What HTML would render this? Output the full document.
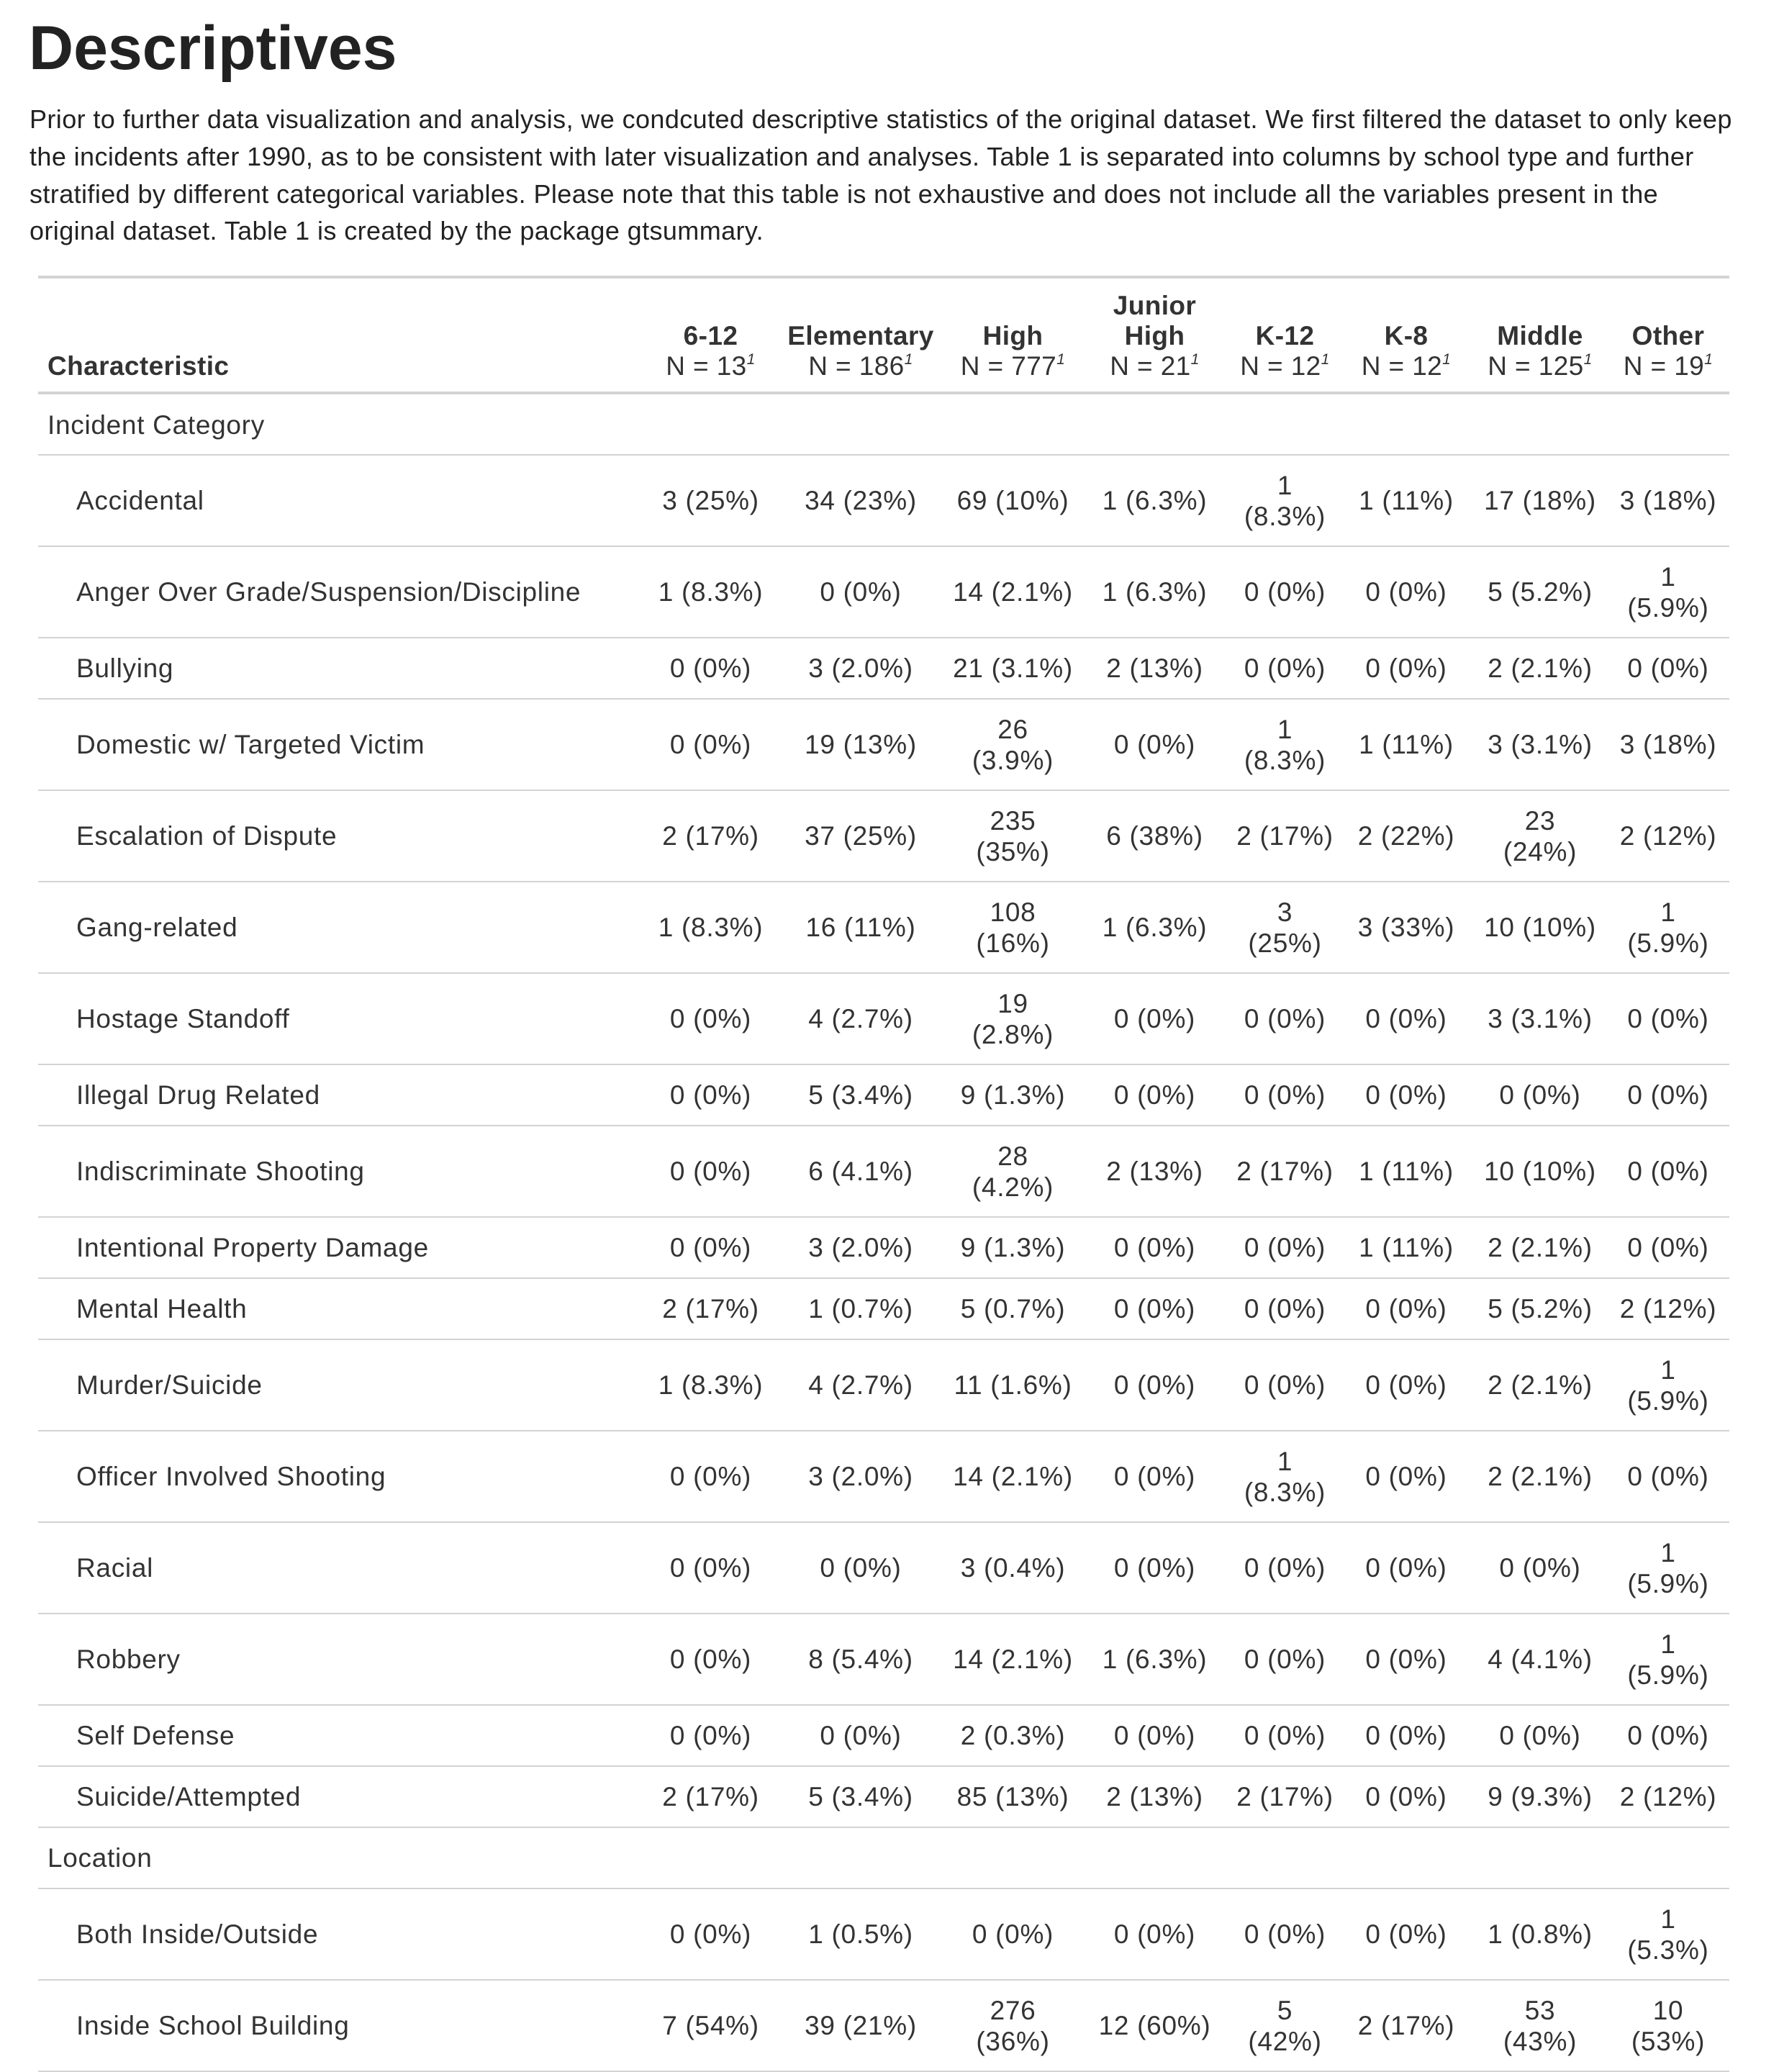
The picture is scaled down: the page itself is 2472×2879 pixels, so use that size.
<!DOCTYPE html>
<html><head><meta charset="utf-8">
<style>
html,body{margin:0;padding:0;background:#fff;}
body{width:2472px;height:2858px;overflow:hidden;position:relative;font-family:"Liberation Sans",Arial,sans-serif;color:#333;}
#title{position:absolute;left:40px;top:12px;font-size:86px;font-weight:bold;color:#222;margin:0;line-height:110px;}
#intro{position:absolute;left:41px;top:140px;font-size:36px;line-height:51.8px;color:#222;margin:0;white-space:nowrap;letter-spacing:0.4px;}
.hl{position:absolute;left:53px;width:2350px;background:#d3d3d3;}
.cell{position:absolute;font-size:37px;line-height:43px;white-space:pre-line;display:flex;align-items:center;letter-spacing:0.7px;}
.num{justify-content:center;text-align:center;}
.hd{position:absolute;font-size:37px;line-height:42px;text-align:center;letter-spacing:0.4px;}
.hd b{font-weight:bold;}
sup{font-size:21px;font-style:italic;vertical-align:15px;line-height:0;}
</style></head>
<body>
<h1 id="title">Descriptives</h1>
<p id="intro">Prior to further data visualization and analysis, we condcuted descriptive statistics of the original dataset. We first filtered the dataset to only keep<br>the incidents after 1990, as to be consistent with later visualization and analyses. Table 1 is separated into columns by school type and further<br>stratified by different categorical variables. Please note that this table is not exhaustive and does not include all the variables present in the<br>original dataset. Table 1 is created by the package gtsummary.</p>
<div id="tbl"></div>
<script>
const columnNames = ["6-12","Elementary","High","Junior\nHigh","K-12","K-8","Middle","Other"];
const columnN = [13,186,777,21,12,12,125,19];
const rowLabels = ["#Incident Category","Accidental","Anger Over Grade/Suspension/Discipline","Bullying","Domestic w/ Targeted Victim","Escalation of Dispute","Gang-related","Hostage Standoff","Illegal Drug Related","Indiscriminate Shooting","Intentional Property Damage","Mental Health","Murder/Suicide","Officer Involved Shooting","Racial","Robbery","Self Defense","Suicide/Attempted","#Location","Both Inside/Outside","Inside School Building"];
const rowValues = [
 null,
 ["3 (25%)","34 (23%)","69 (10%)","1 (6.3%)","1\n(8.3%)","1 (11%)","17 (18%)","3 (18%)"],
 ["1 (8.3%)","0 (0%)","14 (2.1%)","1 (6.3%)","0 (0%)","0 (0%)","5 (5.2%)","1\n(5.9%)"],
 ["0 (0%)","3 (2.0%)","21 (3.1%)","2 (13%)","0 (0%)","0 (0%)","2 (2.1%)","0 (0%)"],
 ["0 (0%)","19 (13%)","26\n(3.9%)","0 (0%)","1\n(8.3%)","1 (11%)","3 (3.1%)","3 (18%)"],
 ["2 (17%)","37 (25%)","235\n(35%)","6 (38%)","2 (17%)","2 (22%)","23\n(24%)","2 (12%)"],
 ["1 (8.3%)","16 (11%)","108\n(16%)","1 (6.3%)","3\n(25%)","3 (33%)","10 (10%)","1\n(5.9%)"],
 ["0 (0%)","4 (2.7%)","19\n(2.8%)","0 (0%)","0 (0%)","0 (0%)","3 (3.1%)","0 (0%)"],
 ["0 (0%)","5 (3.4%)","9 (1.3%)","0 (0%)","0 (0%)","0 (0%)","0 (0%)","0 (0%)"],
 ["0 (0%)","6 (4.1%)","28\n(4.2%)","2 (13%)","2 (17%)","1 (11%)","10 (10%)","0 (0%)"],
 ["0 (0%)","3 (2.0%)","9 (1.3%)","0 (0%)","0 (0%)","1 (11%)","2 (2.1%)","0 (0%)"],
 ["2 (17%)","1 (0.7%)","5 (0.7%)","0 (0%)","0 (0%)","0 (0%)","5 (5.2%)","2 (12%)"],
 ["1 (8.3%)","4 (2.7%)","11 (1.6%)","0 (0%)","0 (0%)","0 (0%)","2 (2.1%)","1\n(5.9%)"],
 ["0 (0%)","3 (2.0%)","14 (2.1%)","0 (0%)","1\n(8.3%)","0 (0%)","2 (2.1%)","0 (0%)"],
 ["0 (0%)","0 (0%)","3 (0.4%)","0 (0%)","0 (0%)","0 (0%)","0 (0%)","1\n(5.9%)"],
 ["0 (0%)","8 (5.4%)","14 (2.1%)","1 (6.3%)","0 (0%)","0 (0%)","4 (4.1%)","1\n(5.9%)"],
 ["0 (0%)","0 (0%)","2 (0.3%)","0 (0%)","0 (0%)","0 (0%)","0 (0%)","0 (0%)"],
 ["2 (17%)","5 (3.4%)","85 (13%)","2 (13%)","2 (17%)","0 (0%)","9 (9.3%)","2 (12%)"],
 null,
 ["0 (0%)","1 (0.5%)","0 (0%)","0 (0%)","0 (0%)","0 (0%)","1 (0.8%)","1\n(5.3%)"],
 ["7 (54%)","39 (21%)","276\n(36%)","12 (60%)","5\n(42%)","2 (17%)","53\n(43%)","10\n(53%)"]
];
const tbl = document.getElementById('tbl');
const colEdges = [53,899,1076,1316,1499,1710,1861,2047,2233,2403];
function line(y,h,name){
  const d=document.createElement('div');d.className='hl';
  
  
  d.style.top=y+'px';d.style.height=h+'px';tbl.appendChild(d);
}
line(383,4,'table-top-rule');
line(544,4,'header-bottom-rule');
let h=document.createElement('div');h.className='hd';


h.style.left='66px';h.style.top='488px';h.style.textAlign='left';h.innerHTML='<b>Characteristic</b>';tbl.appendChild(h);
columnNames.forEach((c,i)=>{
  const d=document.createElement('div');d.className='hd';
  
  
  const l=colEdges[i+1],r=colEdges[i+2];
  const lines=c.split('\n');
  d.style.left=l+'px';d.style.width=(r-l)+'px';
  d.style.top=(488-42*lines.length)+'px';
  d.innerHTML=lines.map(s=>'<b>'+s+'</b>').join('<br>')+'<br>N = '+columnN[i]+'<sup>1</sup>';
  tbl.appendChild(d);
});
let y=548;
rowLabels.forEach((lab,ri)=>{
  const vals=rowValues[ri];
  const isGroup=lab.startsWith('#');
  const tall=vals && vals.some(v=>v.indexOf('\n')>=0);
  const rh=ri===0?84:(tall?127:85);
  const c=document.createElement('div');c.className='cell';
  
  
  c.style.left=(isGroup?66:106)+'px';c.style.top=y+'px';c.style.height=rh+'px';
  c.textContent=isGroup?lab.slice(1):lab;tbl.appendChild(c);
  if(vals){vals.forEach((v,i)=>{
    const e=document.createElement('div');e.className='cell num';
    
    
    e.style.left=colEdges[i+1]+'px';e.style.width=(colEdges[i+2]-colEdges[i+1])+'px';
    e.style.top=y+'px';e.style.height=rh+'px';e.textContent=v;tbl.appendChild(e);
  });}
  y+=rh;
  line(y-1,2,'row-divider');
});
</script>
</body></html>
